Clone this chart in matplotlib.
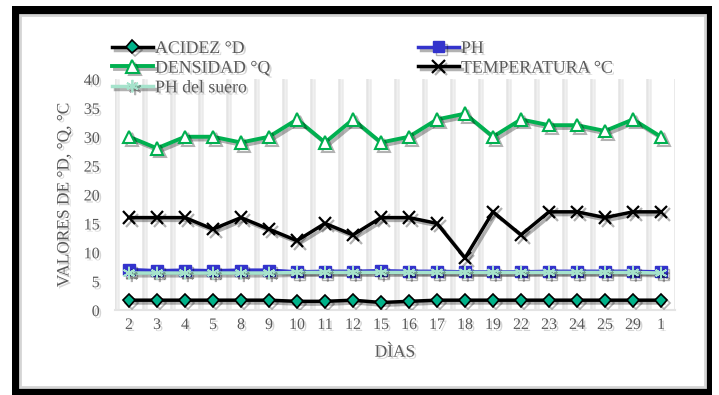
import matplotlib
matplotlib.use("Agg")
import matplotlib.pyplot as plt
import matplotlib.patheffects as pe
from matplotlib.patches import Rectangle
import numpy as np

dias = ["2", "3", "4", "5", "8", "9", "10", "11", "12", "15", "16", "17", "18",
        "19", "22", "23", "24", "25", "29", "1"]
acidez = [1.7, 1.7, 1.7, 1.7, 1.7, 1.7, 1.5, 1.5, 1.7, 1.3, 1.5, 1.7, 1.7,
          1.7, 1.7, 1.7, 1.7, 1.7, 1.7, 1.7]
densidad = [30, 28, 30, 30, 29, 30, 33, 29, 33, 29, 30, 33, 34, 30, 33, 32, 32,
            31, 33, 30]
ph = [7.0, 6.8, 6.9, 6.8, 6.9, 6.9, 6.6, 6.7, 6.7, 6.8, 6.7, 6.7, 6.6, 6.6,
      6.6, 6.7, 6.7, 6.7, 6.7, 6.6]
temperatura = [16, 16, 16, 14, 16, 14, 12, 15, 13, 16, 16, 15, 9, 17, 13, 17,
               17, 16, 17, 17]
ph_suero = [6.4, 6.4, 6.4, 6.4, 6.4, 6.4, 6.5, 6.5, 6.5, 6.5, 6.5, 6.5, 6.5,
            6.5, 6.5, 6.5, 6.5, 6.5, 6.5, 6.4]

plt.rcParams['font.family'] = ['Liberation Serif', 'DejaVu Serif']
TXT = '#595959'

W, H = 719, 395
fig = plt.figure(figsize=(W / 100, H / 100), dpi=100)

# outer black frame
def frect(x0, y0, x1, y1, **kw):
    fig.patches.append(Rectangle((x0 / W, 1 - y1 / H), (x1 - x0) / W, (y1 - y0) / H,
                                 transform=fig.transFigure, **kw))

frect(12, 6, 712, 395, facecolor='black', edgecolor='none', zorder=-10)
frect(20, 15, 705, 387, facecolor='white', edgecolor='none', zorder=-9)
frect(20, 15, 705, 387, facecolor='none', edgecolor='#d5d5d5', lw=2, zorder=-8)

ax = fig.add_axes([115 / W, 1 - 310 / H, 560 / W, 231 / H])
ax.set_facecolor('none')
x = np.arange(len(dias))

shadow = [pe.SimpleLineShadow(offset=(2, -2), alpha=0.3), pe.Normal()]
tshadow = [pe.withSimplePatchShadow(offset=(1.5, -1.5), alpha=0.18)]

# vertical grid at category boundaries
for b in np.arange(-0.5, len(dias) + 0.5, 1):
    ax.axvline(b, color='#e4e4e4', lw=1.8, zorder=0,
               path_effects=[pe.SimpleLineShadow(offset=(2, -1), alpha=0.08), pe.Normal()])

l_ac, = ax.plot(x, acidez, color='black', lw=2.5, marker='D', ms=6.5,
                mfc='#00b38a', mec='black', mew=1.2, label='ACIDEZ °D',
                path_effects=shadow, zorder=3)
l_de, = ax.plot(x, densidad, color='#00b050', lw=2.8, marker='^', ms=9,
                mfc='white', mec='#00b050', mew=1.5, label='DENSIDAD °Q',
                path_effects=shadow, zorder=3)
l_ph, = ax.plot(x, ph, color='#3333cc', lw=2.5, marker='s', ms=8,
                mfc='#3333cc', mec='#3333cc', label='PH',
                path_effects=shadow, zorder=3)
l_te, = ax.plot(x, temperatura, color='black', lw=2.5, marker='x', ms=9,
                mew=1.6, label='TEMPERATURA °C', path_effects=shadow, zorder=3)
l_su, = ax.plot(x, ph_suero, color='#a6e3cc', lw=2.5, marker=(6, 2, 0), ms=9,
                mew=1.3, mec='#a6e3cc', label='PH del suero',
                path_effects=shadow, zorder=4)

ax.set_xlim(-0.5, len(dias) - 0.5)
ax.set_ylim(0, 40)
ax.set_yticks(range(0, 41, 5))
ax.set_xticks(x)
ax.set_xticklabels(dias)
for s in ['top', 'right', 'left']:
    ax.spines[s].set_visible(False)
ax.spines['bottom'].set_color('#e4e4e4')
ax.spines['bottom'].set_linewidth(1.5)
ax.tick_params(axis='both', length=0, labelsize=11.5, colors=TXT)
ax.tick_params(axis='y', pad=11)
ax.tick_params(axis='x', pad=5)
for t in ax.get_xticklabels() + ax.get_yticklabels():
    t.set_path_effects(tshadow)

ax.set_ylabel('VALORES DE °D, °Q, °C', fontsize=12.5, color=TXT,
              path_effects=tshadow)
ax.yaxis.set_label_coords(-0.076, 0.5)
ax.set_xlabel('DÌAS', fontsize=12.5, color=TXT, path_effects=tshadow)
ax.xaxis.set_label_coords(0.5, -0.15)

leg = fig.legend([l_ac, l_de, l_su, l_ph, l_te],
                 ['ACIDEZ °D', 'DENSIDAD °Q', 'PH del suero', 'PH', 'TEMPERATURA °C'],
                 ncol=2, loc='upper left', bbox_to_anchor=(112 / W, 1 - 40 / H),
                 frameon=False, fontsize=12.8, handlelength=2.3, handletextpad=0.12,
                 labelspacing=0.15, columnspacing=8.3, borderpad=0, borderaxespad=0)
for t in leg.get_texts():
    t.set_color(TXT)
    t.set_path_effects(tshadow)

fig.savefig('out.png', dpi=100)
